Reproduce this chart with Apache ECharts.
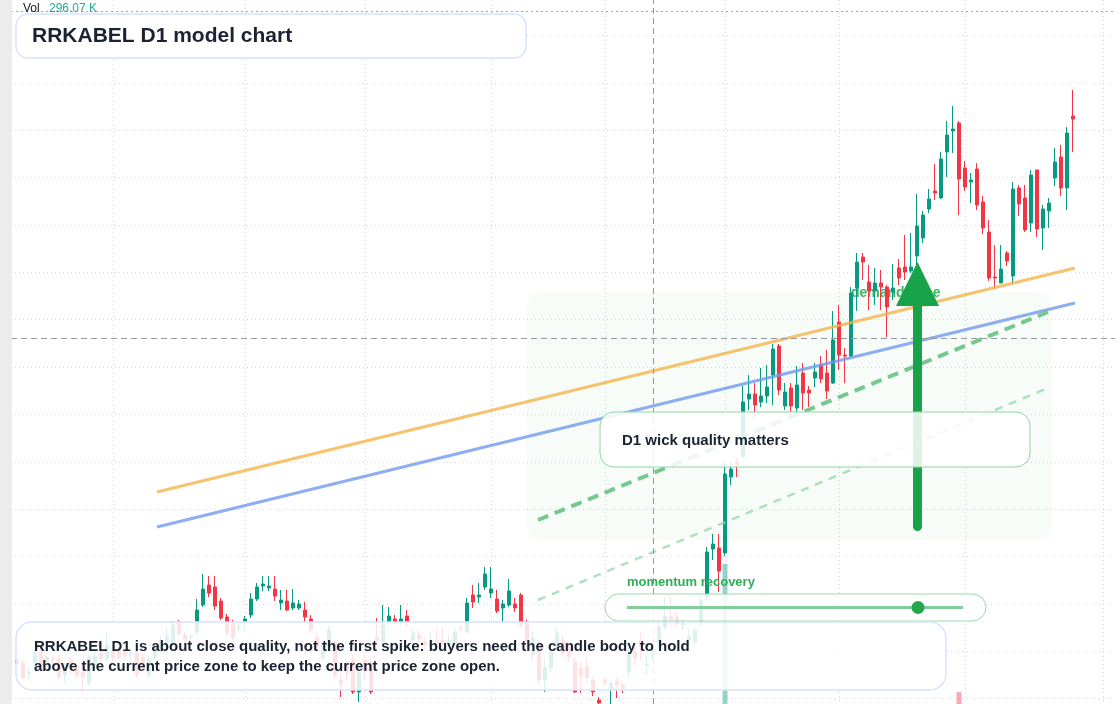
<!DOCTYPE html>
<html>
<head>
<meta charset="utf-8">
<title>RRKABEL D1 model chart</title>
<script src="https://cdn.jsdelivr.net/npm/echarts@6/dist/echarts.min.js"></script>
<style>
    html, body { margin: 0; padding: 0; width: 1120px; height: 704px; overflow: hidden; background: #fff; }
    #main { width: 1120px; height: 704px; }
</style>
</head>
<body>
<div id="main"></div>
<script>
// daily candles, oldest first
var opens = [
    1180, 1178.5, 1173.5, 1178.5, 1184, 1180, 1180.5, 1180.5, 1172.5, 1180,
    1176.5, 1174, 1168.5, 1177.5, 1183.5, 1180.5, 1185, 1185, 1184, 1183,
    1183.5, 1181.5, 1172.5, 1181.5, 1185, 1188.5, 1189, 1199, 1192.5, 1191.5,
    1194, 1207.5, 1217.5, 1216.5, 1209.5, 1201.5, 1198.5, 1196, 1199, 1202.5,
    1210.5, 1217, 1216, 1215.5, 1208.5, 1209.5, 1206, 1206, 1205, 1200.5,
    1191.5, 1181.5, 1186.5, 1189, 1170, 1178.5, 1180, 1164, 1180, 1179,
    1191.5, 1189, 1199, 1200.5, 1199, 1202, 1190, 1192.5, 1189, 1186.5,
    1190, 1190, 1188.5, 1188.5, 1196, 1194, 1212.5, 1211.5, 1216.5, 1213.5,
    1210.5, 1206, 1207.5, 1208, 1212.5, 1199, 1182.5, 1189, 1170, 1176,
    1186.5, 1190, 1186.5, 1179, 1176, 1176.5, 1170, 1160, 1170, 1165.5,
    1169.5, 1167.5, 1174, 1184, 1190, 1177.5, 1182.5, 1188.5, 1196.5, 1202,
    1201.5, 1197.5, 1190, 1189, 1199, 1211.5, 1235.5, 1236, 1233.5, 1271.5,
    1279, 1281.5, 1310.5, 1313, 1309, 1312, 1322.5, 1337, 1307, 1316,
    1306, 1323.5, 1315, 1321, 1327.5, 1323.5, 1318.5, 1349, 1332.5, 1332,
    1366, 1381.5, 1369, 1364.5, 1368.5, 1366.5, 1364, 1376, 1376.5, 1374.5,
    1382, 1391, 1405.5, 1414.5, 1411, 1434, 1444.5, 1448.5, 1426, 1419,
    1425.5, 1409, 1394, 1371.5, 1368.5, 1383.5, 1372, 1416, 1411, 1398.5,
    1425, 1396, 1404.5, 1421, 1431.5, 1416, 1452
];
var closes = [
    1178.5, 1171, 1174, 1183.5, 1176.5, 1181.5, 1180, 1171.5, 1176.5, 1175,
    1172.5, 1171.5, 1181.5, 1182, 1180.5, 1187.5, 1181, 1181.5, 1182, 1183.5,
    1172.5, 1178.5, 1180.5, 1186, 1190, 1191.5, 1197.5, 1193, 1190.5, 1192,
    1205, 1215.5, 1213.5, 1207, 1201, 1193.5, 1191.5, 1196.5, 1200.5, 1210.5,
    1216.5, 1218, 1217, 1212, 1210, 1205, 1208.5, 1208, 1201.5, 1195,
    1186.5, 1188.5, 1195, 1172.5, 1168, 1173.5, 1164, 1174, 1175, 1164,
    1190, 1197.5, 1202, 1199, 1200.5, 1199, 1193.5, 1190.5, 1187.5, 1190,
    1188.5, 1188.5, 1190, 1194, 1195.5, 1208.5, 1209, 1212.5, 1223, 1215.5,
    1204.5, 1208, 1214.5, 1206, 1197.5, 1189, 1191, 1170, 1176.5, 1184,
    1193.5, 1183.5, 1181.5, 1164, 1172, 1171, 1164, 1158.5, 1168.5, 1168.5,
    1167.5, 1165.5, 1183.5, 1181, 1186.5, 1178, 1183, 1196.5, 1202, 1200,
    1198, 1198.5, 1192, 1194.5, 1210, 1234, 1238, 1224.5, 1273, 1275.5,
    1277.5, 1309, 1313, 1307.5, 1312, 1316.5, 1335.5, 1315, 1314, 1307,
    1317.5, 1313.5, 1313.5, 1324, 1320.5, 1314.5, 1340, 1332.5, 1332, 1363.5,
    1379, 1379, 1364.5, 1368.5, 1366.5, 1356.5, 1366, 1371, 1374, 1376.5,
    1397, 1402.5, 1410.5, 1413.5, 1430.5, 1442.5, 1445.5, 1420.5, 1416.5, 1420,
    1407.5, 1396, 1371, 1371, 1375.5, 1379.5, 1415.5, 1408, 1395, 1422.5,
    1395.5, 1405.5, 1408.5, 1429, 1416, 1443.5, 1450.5
];
var lows = [
    1177.5, 1170, 1170, 1175, 1174, 1178.5, 1178, 1170, 1168.5, 1172.5,
    1171, 1164.5, 1167, 1176, 1179, 1179, 1179, 1180, 1180, 1180,
    1171, 1176, 1171, 1180, 1183.5, 1187, 1188, 1191.5, 1189, 1190,
    1192.5, 1206.5, 1211.5, 1205, 1200, 1192, 1190, 1194, 1194, 1201,
    1209.5, 1214.5, 1214.5, 1209.5, 1205, 1204.5, 1205, 1205, 1199, 1193.5,
    1185, 1180, 1185, 1171, 1161.5, 1170, 1163, 1159, 1170, 1163,
    1189, 1187.5, 1197.5, 1197.5, 1197.5, 1196, 1187.5, 1189, 1185, 1185,
    1187, 1187, 1187, 1187, 1194, 1193, 1206, 1208.5, 1215, 1211,
    1203.5, 1199, 1206.5, 1204, 1196, 1187.5, 1180, 1168.5, 1164, 1174,
    1185, 1181.5, 1179, 1163.5, 1163.5, 1168.5, 1162, 1156, 1167, 1158,
    1161, 1163.5, 1171, 1177.5, 1180, 1172.5, 1180, 1186, 1195, 1197.5,
    1196.5, 1195, 1187.5, 1187.5, 1197, 1210, 1230, 1214, 1232, 1267.5,
    1271.5, 1281, 1305, 1301, 1306.5, 1308.5, 1307.5, 1312.5, 1305, 1301,
    1302.5, 1305, 1306.5, 1316.5, 1318.5, 1310.5, 1318, 1325, 1318.5, 1331.5,
    1354.5, 1370, 1355, 1357.5, 1355, 1341.5, 1360, 1367.5, 1370, 1373.5,
    1377.5, 1388.5, 1403.5, 1410, 1410.5, 1421.5, 1433.5, 1402.5, 1414.5, 1408.5,
    1405, 1393, 1369.5, 1365.5, 1368.5, 1377, 1368, 1402, 1394, 1394,
    1391.5, 1385, 1396, 1417, 1412, 1405, 1434
];
var highs = [
    1181.5, 1180, 1176, 1185, 1186, 1182.5, 1182.5, 1182, 1179, 1181.5,
    1178.5, 1180, 1182.5, 1185, 1186, 1194, 1187.5, 1187, 1185, 1185,
    1185, 1183, 1182.5, 1187.5, 1192, 1196.5, 1199.5, 1200, 1194, 1193,
    1210.5, 1223, 1222, 1222, 1211, 1203, 1200, 1199, 1202, 1213.5,
    1218.5, 1222, 1222, 1222, 1215, 1215, 1215.5, 1210, 1209, 1202.5,
    1193.5, 1190, 1197.5, 1190, 1174, 1180, 1182.5, 1176, 1182.5, 1181,
    1201, 1207.5, 1206.5, 1202.5, 1207.5, 1205, 1196, 1195, 1191, 1194,
    1195, 1196, 1192.5, 1196, 1197.5, 1211, 1217.5, 1218.5, 1226.5, 1226.5,
    1215, 1210, 1220.5, 1211, 1213.5, 1200, 1194, 1190, 1181, 1187.5,
    1196, 1192, 1189, 1181, 1179, 1181, 1171.5, 1161.5, 1171.5, 1170,
    1171, 1169, 1186, 1187.5, 1194, 1182.5, 1185, 1199, 1211.5, 1211.5,
    1204, 1201, 1195, 1196, 1211.5, 1236.5, 1243, 1243, 1279, 1279,
    1281, 1317, 1322.5, 1318.5, 1326, 1327.5, 1338, 1338, 1318.5, 1318.5,
    1327, 1328.5, 1317, 1328.5, 1332, 1335, 1354.5, 1357.5, 1336, 1366.5,
    1383.5, 1383.5, 1377.5, 1376, 1375, 1367.5, 1378, 1380.5, 1392.5, 1393.5,
    1413, 1404.5, 1415.5, 1428, 1434, 1449.5, 1457, 1449.5, 1429.5, 1423.5,
    1428.5, 1412, 1400, 1387.5, 1387.5, 1384.5, 1419, 1417.5, 1417.5, 1425,
    1425, 1407.5, 1411, 1436, 1437.5, 1446.5, 1465
];
// volume, thousands
var volumes = [
    120, 95, 80, 140, 110, 70, 65, 130, 100, 90,
    85, 150, 160, 90, 75, 170, 95, 80, 70, 60,
    145, 90, 120, 110, 130, 105, 160, 125, 80, 70,
    240, 260, 180, 150, 170, 160, 120, 90, 110, 190,
    210, 140, 100, 150, 130, 120, 110, 90, 140, 150,
    170, 160, 150, 210, 200, 130, 190, 170, 120, 200,
    180, 220, 130, 90, 140, 110, 100, 85, 95, 100,
    80, 90, 85, 110, 70, 250, 180, 120, 260, 200,
    170, 120, 210, 110, 230, 190, 160, 250, 220, 180,
    170, 150, 140, 230, 160, 130, 200, 210, 120, 150,
    130, 110, 230, 140, 160, 90, 80, 200, 240, 150,
    120, 100, 110, 140, 210, 310, 250, 280, 1440, 300,
    230, 320, 200, 190, 170, 180, 290, 280, 190, 200,
    230, 210, 130, 170, 160, 200, 300, 290, 150, 310,
    300, 220, 200, 180, 170, 230, 160, 190, 210, 170,
    300, 250, 220, 180, 290, 310, 240, 427, 230, 170,
    220, 240, 300, 200, 180, 140, 320, 200, 230, 280,
    300, 210, 160, 240, 230, 310, 296.07
];

// drawn trend lines: [slot, price]
var orangeLine = [[24.33, 1264], [177.33, 1376]];
var blueLine = [[24.33, 1246.5], [177.33, 1358.5]];
var greenDash = [[87.83, 1250], [172.83, 1354]];
var greenThin = [[87.83, 1210], [172.83, 1316]];

var dateGridSlots = [17, 39, 59, 80, 99, 119, 138, 159, 182];
var crossSlot = 107;
var crossPrice = 1341;
var lastPriceLine = 1504.5;

var TEAL = '#089981';
var RED = '#f23645';
var INK = '#1b2332';

// one empty slot before the first bar, a few after the last
var slots = 185;
var dates = [];
var d = new Date(Date.UTC(2024, 5, 3));
while (dates.length < slots) {
    var wd = d.getUTCDay();
    if (wd !== 0 && wd !== 6) dates.push(d.toISOString().slice(0, 10));
    d.setUTCDate(d.getUTCDate() + 1);
}

var candles = [['-', '-', '-', '-']];
var vols = ['-'];
for (var i = 0; i < opens.length; i++) {
    candles.push([opens[i], closes[i], lows[i], highs[i]]);
    vols.push({
        value: volumes[i],
        itemStyle: { color: closes[i] >= opens[i] ? 'rgba(8,153,129,0.42)' : 'rgba(242,54,69,0.42)' }
    });
}

var gridLine = { color: '#d3d6dc', width: 1, type: [1, 3] };
var FONT = '"Liberation Sans", Arial, sans-serif';
var noAxis = { axisLine: { show: false }, axisTick: { show: false }, axisLabel: { show: false } };

var myChart = echarts.init(document.getElementById('main'), null, { renderer: 'canvas' });

function trend(data, color, width, dash) {
    return {
        type: 'line', xAxisIndex: 1, yAxisIndex: 0, data: data,
        symbol: 'none', silent: true, z: 4,
        lineStyle: { color: color, width: width, type: dash || 'solid', cap: 'butt' }
    };
}

var option = {
    animation: false,
    backgroundColor: '#fff',
    grid: [
        // price pane, its lowest grid line sits on the bottom edge
        { left: 11, right: 5, top: 0, bottom: 5.375 },
        // volume pane, full height
        { left: 11, right: 5, top: 0, bottom: 0 }
    ],
    xAxis: [
        Object.assign({ type: 'category', gridIndex: 0, data: dates, boundaryGap: false, splitLine: { show: false } }, noAxis),
        { type: 'value', gridIndex: 0, min: 0, max: slots - 1, show: false },
        Object.assign({
            type: 'category', gridIndex: 1, data: dates, boundaryGap: false,
            splitLine: {
                show: true,
                interval: function (idx) { return dateGridSlots.indexOf(idx) >= 0; },
                lineStyle: gridLine
            }
        }, noAxis)
    ],
    yAxis: [
        Object.assign({
            type: 'value', gridIndex: 0, min: 1160.6875, max: 1510, interval: 23.6875,
            splitLine: { show: true, showMaxLine: false, lineStyle: gridLine }
        }, noAxis),
        { type: 'value', gridIndex: 1, min: 332.45, max: 5905, show: false }
    ],
    series: [
        {
            type: 'bar', xAxisIndex: 2, yAxisIndex: 1, data: vols,
            barWidth: 5, silent: true, z: 1,
            markLine: {
                silent: true, symbol: ['none', 'none'], label: { show: false },
                data: [{ xAxis: crossSlot, lineStyle: { color: '#9598a1', width: 1, type: [6, 4] } }]
            }
        },
        {
            type: 'candlestick', xAxisIndex: 0, yAxisIndex: 0, data: candles,
            barWidth: 4, silent: true, z: 2, clip: false,
            itemStyle: { color: TEAL, color0: RED, borderColor: TEAL, borderColor0: RED, borderWidth: 1 },
            markLine: {
                silent: true, symbol: ['none', 'none'], label: { show: false },
                data: [
                    { yAxis: lastPriceLine, lineStyle: { color: '#f29a1f', width: 1, type: [2, 3] } },
                    { yAxis: crossPrice, lineStyle: { color: '#9598a1', width: 1, type: [6, 4] } }
                ]
            }
        },
        trend(orangeLine, 'rgba(245,178,70,0.78)', 3),
        trend(blueLine, 'rgba(110,150,238,0.78)', 3),
        trend(greenDash, 'rgba(95,190,125,0.85)', 4, [11, 7]),
        trend(greenThin, 'rgba(150,215,170,0.75)', 2.5, [8, 7])
    ],
    graphic: [
        // demand zone
        { type: 'rect', silent: true, z: 1, shape: { x: 527, y: 292, width: 525, height: 248, r: 16 },
          style: { fill: 'rgba(60,185,95,0.045)' } },
        { type: 'text', silent: true, z: 1, x: 851, y: 293,
          style: { text: 'demand zone', font: 'bold 14px ' + FONT, fill: '#3db564', verticalAlign: 'middle' } },
        // big arrow
        { type: 'rect', silent: true, z: 6, shape: { x: 913, y: 300, width: 9, height: 231, r: 4.5 },
          style: { fill: '#18a34a' } },
        { type: 'polygon', silent: true, z: 6, shape: { points: [[917.5, 262], [896, 306], [939, 306]] },
          style: { fill: '#18a34a' } },
        // wick quality box
        { type: 'rect', silent: true, z: 10, shape: { x: 600, y: 412, width: 430, height: 55, r: 14 },
          style: { fill: 'rgba(255,255,255,0.86)', stroke: '#92d5a8', lineWidth: 1 } },
        { type: 'text', silent: true, z: 11, x: 622, y: 441,
          style: { text: 'D1 wick quality matters', font: 'bold 15px ' + FONT, fill: INK, verticalAlign: 'middle' } },
        // momentum pill
        { type: 'text', silent: true, z: 11, x: 627, y: 582,
          style: { text: 'momentum recovery', font: 'bold 13px ' + FONT, fill: '#2eae58', verticalAlign: 'middle' } },
        { type: 'rect', silent: true, z: 10, shape: { x: 605, y: 594, width: 381, height: 27, r: 13.5 },
          style: { fill: 'rgba(255,255,255,0.86)', stroke: '#9ad9ae', lineWidth: 1 } },
        { type: 'line', silent: true, z: 11, shape: { x1: 627, y1: 607.5, x2: 963, y2: 607.5 },
          style: { stroke: '#80cf9b', lineWidth: 3 } },
        { type: 'circle', silent: true, z: 12, shape: { cx: 918, cy: 607.5, r: 6.5 },
          style: { fill: '#25a54c' } },
        // note box
        { type: 'rect', silent: true, z: 10, shape: { x: 16, y: 622, width: 930, height: 68, r: 16 },
          style: { fill: 'rgba(255,255,255,0.86)', stroke: '#d6e4fb', lineWidth: 1.5 } },
        { type: 'text', silent: true, z: 11, x: 34, y: 647,
          style: { text: 'RRKABEL D1 is about close quality, not the first spike: buyers need the candle body to hold',
                   font: 'bold 15px ' + FONT, fill: INK, verticalAlign: 'middle' } },
        { type: 'text', silent: true, z: 11, x: 34, y: 667,
          style: { text: 'above the current price zone to keep the current price zone open.',
                   font: 'bold 15px ' + FONT, fill: INK, verticalAlign: 'middle' } },
        // title
        { type: 'rect', silent: true, z: 10, shape: { x: 16, y: 14, width: 510, height: 44, r: 12 },
          style: { fill: '#fff', stroke: '#d6e4fb', lineWidth: 1.5 } },
        { type: 'text', silent: true, z: 11, x: 32, y: 36.5,
          style: { text: 'RRKABEL D1 model chart', font: 'bold 21px ' + FONT, fill: INK, verticalAlign: 'middle' } },
        // volume legend
        { type: 'text', silent: true, z: 12, x: 23, y: 9,
          style: { text: 'Vol', font: '12px ' + FONT, fill: '#131722', verticalAlign: 'middle' } },
        { type: 'text', silent: true, z: 12, x: 49, y: 9,
          style: { text: volumes[volumes.length - 1].toFixed(2) + ' K', font: '12px ' + FONT, fill: '#22ab94', verticalAlign: 'middle' } },
        // left strip
        { type: 'rect', silent: true, z: 20, shape: { x: 0, y: 0, width: 12, height: 704 },
          style: { fill: '#ececec' } }
    ]
};

myChart.setOption(option);
</script>
</body>
</html>
